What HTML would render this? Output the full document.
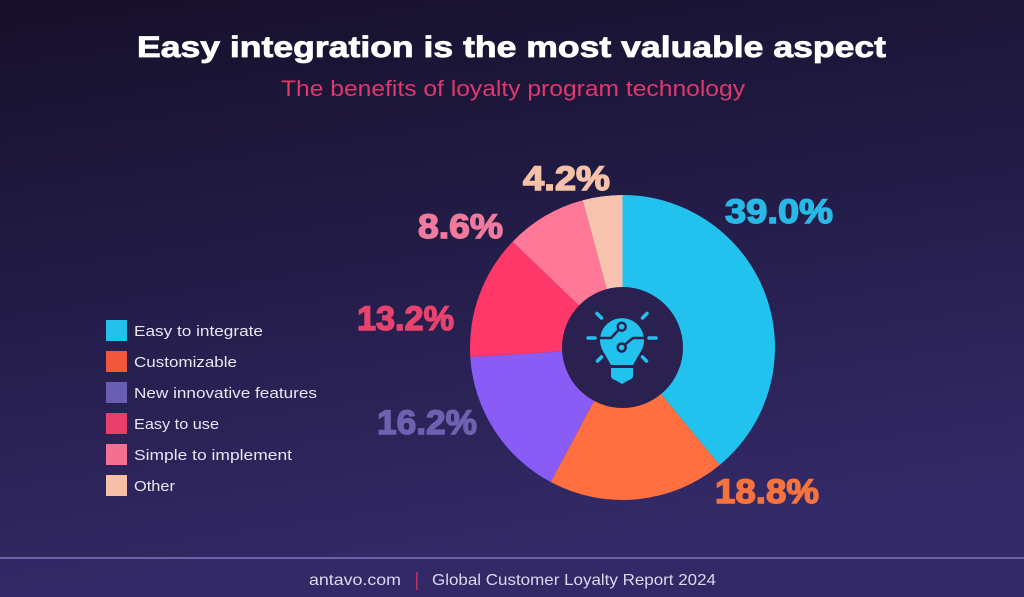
<!DOCTYPE html>
<html>
<head>
<meta charset="utf-8">
<style>
  html, body { margin:0; padding:0; background:#1f1840; }
  svg { display:block; }
  text { font-family: "Liberation Sans", sans-serif; }
</style>
</head>
<body>
<svg width="1024" height="597" viewBox="0 0 1024 597" xmlns="http://www.w3.org/2000/svg">
  <defs>
    <linearGradient id="bg" x1="0" y1="0" x2="0.25" y2="1">
      <stop offset="0" stop-color="#16102a"/>
      <stop offset="0.45" stop-color="#221b45"/>
      <stop offset="1" stop-color="#342a68"/>
    </linearGradient>
  </defs>
  <rect x="0" y="0" width="1024" height="597" fill="url(#bg)"/>

  <!-- Title -->
  <text x="137" y="57" font-size="30" font-weight="bold" fill="#ffffff" stroke="#ffffff" stroke-width="0.8" textLength="749" lengthAdjust="spacingAndGlyphs">Easy integration is the most valuable aspect</text>
  <text x="281" y="96" font-size="22" fill="#de386d" textLength="464" lengthAdjust="spacingAndGlyphs">The benefits of loyalty program technology</text>

  <!-- Pie -->
  <g>
    <path d="M622.5 347.5 L622.5 195 A152.5 152.5 0 0 1 719.7 465 Z" fill="#22c2ee"/>
    <path d="M622.5 347.5 L719.7 465 A152.5 152.5 0 0 1 550.7 482 Z" fill="#ff6f40"/>
    <path d="M622.5 347.5 L550.7 482 A152.5 152.5 0 0 1 470.3 357.1 Z" fill="#8a5cf6"/>
    <path d="M622.5 347.5 L470.3 357.1 A152.5 152.5 0 0 1 512.6 241.7 Z" fill="#fe3868"/>
    <path d="M622.5 347.5 L512.6 241.7 A152.5 152.5 0 0 1 582.7 200.3 Z" fill="#ff7898"/>
    <path d="M622.5 347.5 L582.7 200.3 A152.5 152.5 0 0 1 622.5 195 Z" fill="#f7c3ae"/>
    <circle cx="622.5" cy="347.5" r="60.5" fill="#2a2151"/>
  </g>

  <!-- Bulb icon -->
  <g fill="#22c2ee">
    <path d="M603.5 352 A22 22 0 1 1 640.5 352 L633 365 L611 365 Z"/>
    <path d="M611 368 H633 V376 Q633 379 628 380.5 L622 384 L616 380.5 Q611 379 611 376 Z"/>
  </g>
  <g stroke="#22c2ee" stroke-width="3.5" stroke-linecap="round" fill="none">
    <line x1="588" y1="338" x2="595" y2="338"/>
    <line x1="649" y1="338" x2="656" y2="338"/>
    <line x1="597" y1="313.5" x2="601.5" y2="318"/>
    <line x1="647" y1="313.5" x2="642.5" y2="318"/>
    <line x1="601.5" y1="357" x2="597.5" y2="361"/>
    <line x1="642.5" y1="357" x2="646.5" y2="361"/>
  </g>
  <g stroke="#2a2151" stroke-width="2.5" fill="none" stroke-linecap="round">
    <path d="M599 338 H611 L618.5 330"/>
    <circle cx="621.7" cy="326.7" r="4"/>
    <path d="M645 338 H633 L625 344.5"/>
    <circle cx="621.7" cy="347.5" r="4"/>
  </g>

  <!-- Percentage labels -->
  <g font-weight="bold" font-size="34" stroke-width="1.4">
    <text x="523" y="190" fill="#f5c2a8" stroke="#f5c2a8" textLength="87" lengthAdjust="spacingAndGlyphs">4.2%</text>
    <text x="725" y="223" fill="#28b9e7" stroke="#28b9e7" textLength="108" lengthAdjust="spacingAndGlyphs">39.0%</text>
    <text x="418" y="238" fill="#f07a9c" stroke="#f07a9c" textLength="85" lengthAdjust="spacingAndGlyphs">8.6%</text>
    <text x="357" y="330" fill="#e8426e" stroke="#e8426e" textLength="97" lengthAdjust="spacingAndGlyphs">13.2%</text>
    <text x="377" y="434" fill="#6c62b0" stroke="#6c62b0" textLength="100" lengthAdjust="spacingAndGlyphs">16.2%</text>
    <text x="715" y="503" fill="#f5733f" stroke="#f5733f" textLength="104" lengthAdjust="spacingAndGlyphs">18.8%</text>
  </g>

  <!-- Legend -->
  <g>
    <rect x="106" y="320" width="21" height="21" fill="#22c0ea"/>
    <rect x="106" y="351" width="21" height="21" fill="#f0573c"/>
    <rect x="106" y="382" width="21" height="21" fill="#6a5eb2"/>
    <rect x="106" y="413" width="21" height="21" fill="#e83e6c"/>
    <rect x="106" y="444" width="21" height="21" fill="#f47092"/>
    <rect x="106" y="475" width="21" height="21" fill="#f5c0a6"/>
  </g>
  <g font-size="15" fill="#e8e6f2">
    <text x="134" y="336" textLength="129" lengthAdjust="spacingAndGlyphs">Easy to integrate</text>
    <text x="134" y="367" textLength="103" lengthAdjust="spacingAndGlyphs">Customizable</text>
    <text x="134" y="398" textLength="183" lengthAdjust="spacingAndGlyphs">New innovative features</text>
    <text x="134" y="429" textLength="85" lengthAdjust="spacingAndGlyphs">Easy to use</text>
    <text x="134" y="460" textLength="158" lengthAdjust="spacingAndGlyphs">Simple to implement</text>
    <text x="134" y="491" textLength="41" lengthAdjust="spacingAndGlyphs">Other</text>
  </g>

  <!-- Footer -->
  <rect x="0" y="557" width="1024" height="2" fill="#6d62a6"/>
  <rect x="0" y="559" width="1024" height="38" fill="#332968" opacity="0.6"/>
  <text x="309" y="585" font-size="16" fill="#dcd8ee" textLength="92" lengthAdjust="spacingAndGlyphs">antavo.com</text>
  <rect x="416" y="572" width="1.6" height="18" fill="#b53360"/>
  <text x="432" y="585" font-size="16" fill="#dcd8ee" textLength="284" lengthAdjust="spacingAndGlyphs">Global Customer Loyalty Report 2024</text>
</svg>
</body>
</html>
